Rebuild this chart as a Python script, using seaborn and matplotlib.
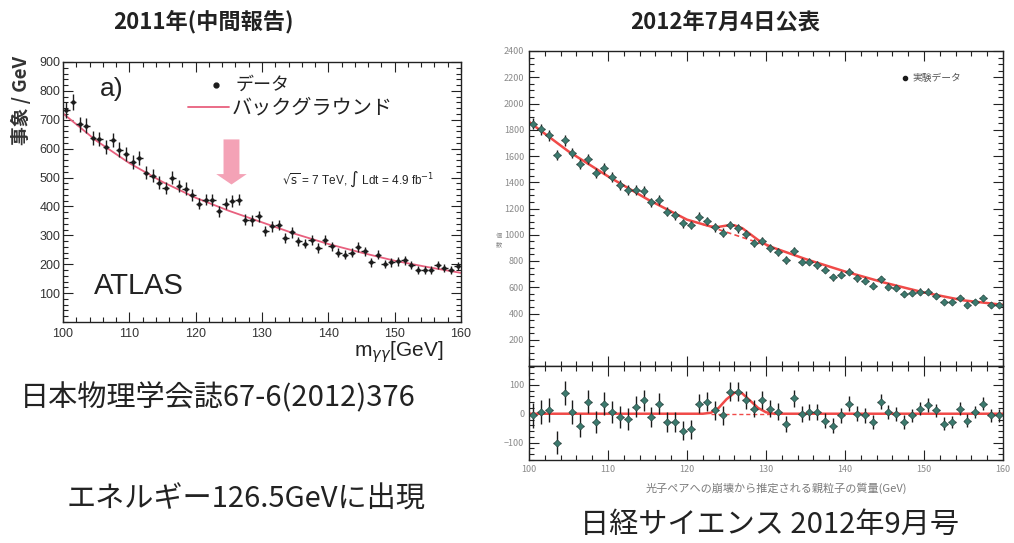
import numpy as np
import matplotlib
matplotlib.use("Agg")
import matplotlib.pyplot as plt
from matplotlib.ticker import MultipleLocator, FixedLocator
import seaborn as sns

# ---------------- data ----------------
# 2011 (ATLAS, 4.9 fb^-1): diphoton events per GeV, 1 GeV bins
atlas_mass = np.arange(100.5, 160.0, 1.0)
atlas_events = [733, 761, 684, 680, 637, 634, 606, 630, 597, 583,
                553, 568, 516, 507, 482, 464, 499, 470, 462, 441,
                410, 424, 421, 383, 410, 418, 424, 354, 352, 366,
                314, 331, 336, 290, 310, 279, 271, 283, 256, 283,
                262, 239, 233, 239, 260, 245, 206, 233, 202, 206,
                210, 213, 198, 181, 181, 181, 198, 187, 179, 195]
atlas_bkg_x = [100, 105, 110, 115, 120, 125, 130, 135, 140, 145, 150, 155, 160]
atlas_bkg_y = [722, 628, 550, 485, 430, 385, 345, 305, 270, 240, 212, 190, 170]

# 2012 announcement: events per bin and background-subtracted residuals
mass_2012 = np.arange(100.5, 160.0, 1.0)
events_2012 = [1847, 1802, 1759, 1607, 1721, 1624, 1538, 1579, 1467, 1505,
               1437, 1378, 1340, 1340, 1335, 1247, 1264, 1176, 1150, 1087,
               1074, 1138, 1105, 1057, 1016, 1074, 1049, 1006, 940, 953,
               897, 866, 808, 877, 795, 795, 770, 732, 676, 694,
               719, 669, 651, 613, 661, 605, 593, 549, 555, 567,
               567, 534, 491, 484, 517, 466, 491, 517, 466, 466]
residual_2012 = [-6, 6, 12, -100, 70, 6, -41, 41, -29, 35,
                 6, -12, -18, 24, 47, -12, 35, -29, -29, -59,
                 -53, 35, 41, 12, -6, 76, 76, 47, 18, 47,
                 18, 6, -35, 53, 0, 6, 6, -24, -41, -6,
                 35, 0, -6, -29, 41, 6, 0, -29, -6, 18,
                 29, 12, -35, -29, 18, -24, 6, 35, -6, -6]
fit_x = [100, 105, 110, 115, 120, 122, 123, 124, 125, 126, 127, 128, 129, 130,
         131, 135, 140, 145, 150, 155, 160]
fit_y = [1860, 1635, 1445, 1270, 1115, 1080, 1063, 1060, 1070, 1072, 1050, 1005,
         960, 925, 900, 815, 720, 635, 560, 500, 466]
bkg_only_x = [122, 124, 126, 128, 130, 131]
bkg_only_y = [1080, 1040, 1000, 960, 920, 900]
signal_x = [100, 122, 123, 124, 125, 126, 126.5, 127, 128, 129, 130, 131, 160]
signal_y = [0, 0, 3, 20, 50, 72, 75, 70, 45, 20, 5, 0, 0]
zero_x = [123, 131]
zero_y = [0, 0]

# ---------------- style ----------------
sns.set_theme(style="ticks")
plt.rcParams["font.family"] = ["Noto Sans CJK JP", "DejaVu Sans"]
LAT = ["Liberation Sans", "Noto Sans CJK JP", "DejaVu Sans"]

fig = plt.figure(figsize=(10.14, 5.43), dpi=100)
W, H = 1014, 543


def px_axes(x0, y0, x1, y1):
    return fig.add_axes([x0 / W, 1 - y1 / H, (x1 - x0) / W, (y1 - y0) / H])


def in_ticks(ax, size=8, color="#333333"):
    ax.tick_params(which="both", direction="in", top=True, right=True,
                   labelsize=size, labelcolor=color, width=0.8, color="#222222")
    ax.tick_params(which="major", length=7)
    ax.tick_params(which="minor", length=3.5)
    for s in ax.spines.values():
        s.set_color("#222222")
        s.set_linewidth(1.0)


# ---------------- left panel (2011) ----------------
axL = px_axes(63, 62, 461, 322)
axL.errorbar(atlas_mass, atlas_events, yerr=np.sqrt(atlas_events), xerr=0.5,
             fmt="none", ecolor="#1c1c1c", elinewidth=1.0, zorder=3)
sns.scatterplot(x=atlas_mass, y=atlas_events, ax=axL, color="#1c1c1c",
                s=10, linewidth=0, legend=False, zorder=4)
sns.lineplot(x=atlas_bkg_x, y=atlas_bkg_y, ax=axL, color="#e8607e",
             linewidth=1.3, zorder=2)
axL.set_xlim(100, 160)
axL.set_ylim(0, 900)
axL.xaxis.set_major_locator(MultipleLocator(10))
axL.xaxis.set_minor_locator(MultipleLocator(2))
axL.yaxis.set_major_locator(MultipleLocator(100))
axL.yaxis.set_minor_locator(MultipleLocator(20))
axL.set_yticks(range(100, 901, 100))
in_ticks(axL, size=9)
for lab in axL.get_xticklabels() + axL.get_yticklabels():
    lab.set_family(LAT)
axL.tick_params(axis="y", pad=2)
axL.tick_params(axis="x", pad=4)

axL.arrow(125.4, 632, 0, -156, width=2.4, head_width=4.6, head_length=36,
          length_includes_head=True, color="#f4a2b6", linewidth=0, zorder=1)
axL.text(107.3, 805, "a)", fontsize=19, color="#222222", ha="center", va="center",
         family=LAT)
axL.text(104.6, 125, "ATLAS", fontsize=21, color="#222222", ha="left", va="center",
         family=LAT)
axL.plot([123.0], [820], "o", color="#1c1c1c", markersize=3.5)
axL.text(126.0, 822, "データ", fontsize=13, color="#222222", ha="left",
         va="center")
axL.plot([118.8, 125.1], [745, 745], color="#e8607e", linewidth=1.3)
axL.text(125.5, 742, "バックグラウンド", fontsize=14.5, color="#222222",
         ha="left", va="center")
axL.text(133.0, 493, r"$\sqrt{\rm s}$ = 7 TeV, $\int$ Ldt = 4.9 fb$^{-1}$",
         fontsize=8.5, color="#222222", ha="left", va="center", family=LAT)
axL.set_xlabel("")
axL.set_ylabel("")
fig.text(443 / W, 1 - 352 / H, r"m$_{\gamma\gamma}$[GeV]", fontsize=15,
         color="#222222", ha="right", va="center", family=LAT)
fig.text(21 / W, 1 - 100 / H, "事象 / GeV", fontsize=13.5, color="#333333",
         rotation=90, ha="center", va="center", fontweight="bold")

# ---------------- right panels (2012) ----------------
axU = px_axes(529, 51, 1003, 366)
axR = px_axes(529, 366, 1003, 460)

MARK = "#3c7a6e"
axU.errorbar(mass_2012, events_2012, yerr=np.sqrt(events_2012), xerr=0.5,
             fmt="none", ecolor="#1a1a1a", elinewidth=1.0, zorder=3)
sns.scatterplot(x=mass_2012, y=events_2012, ax=axU, color=MARK, marker="D",
                s=14, edgecolor="#22403a", linewidth=0.4, legend=False, zorder=4)
sns.lineplot(x=fit_x, y=fit_y, ax=axU, color="#f04a48", linewidth=1.8, zorder=2)
axU.plot(bkg_only_x, bkg_only_y, color="#f04a48", linewidth=1.2,
         linestyle=(0, (3, 2)), zorder=2)
axU.set_xlim(100, 160)
axU.set_ylim(0, 2400)
axU.xaxis.set_major_locator(MultipleLocator(10))
axU.xaxis.set_minor_locator(MultipleLocator(2))
axU.yaxis.set_major_locator(FixedLocator(list(range(200, 2401, 200))))
axU.yaxis.set_minor_locator(MultipleLocator(50))
in_ticks(axU, size=6.5, color="#8a8a8a")
axU.tick_params(labelbottom=False)
axU.set_xlabel("")
axU.set_ylabel("")
axU.plot([147.6], [2197], "o", color="#1a1a1a", markersize=3)
axU.text(148.6, 2197, "実験データ", fontsize=7, color="#555555",
         ha="left", va="center")

axR.errorbar(mass_2012, residual_2012, yerr=np.sqrt(events_2012), xerr=0.5,
             fmt="none", ecolor="#1a1a1a", elinewidth=1.0, zorder=3)
sns.scatterplot(x=mass_2012, y=residual_2012, ax=axR, color=MARK, marker="D",
                s=14, edgecolor="#22403a", linewidth=0.4, legend=False, zorder=4)
sns.lineplot(x=signal_x, y=signal_y, ax=axR, color="#f04a48", linewidth=1.8,
             zorder=2)
axR.plot(zero_x, zero_y, color="#f04a48", linewidth=1.0,
         linestyle=(0, (3, 2)), zorder=2)
axR.set_xlim(100, 160)
axR.set_ylim(-160, 165)
axR.xaxis.set_major_locator(MultipleLocator(10))
axR.xaxis.set_minor_locator(MultipleLocator(2))
axR.set_yticks([-100, 0, 100])
axR.set_yticklabels(["\u2212100", "0", "100"])
axR.yaxis.set_minor_locator(MultipleLocator(20))
in_ticks(axR, size=6.5, color="#8a8a8a")
axR.set_xlabel("")
axR.set_ylabel("")

fig.text(776 / W, 1 - 488 / H, "光子ペアへの崩壊から推定される親粒子の質量(GeV)",
         fontsize=8, color="#7a7a7a", ha="center", va="center")
fig.text(499 / W, 1 - 240 / H, "個\n数", fontsize=4.5, color="#8a8a8a",
         ha="center", va="center", linespacing=1.0)

# ---------------- captions ----------------
fig.text(203 / W, 1 - 22 / H, "2011年(中間報告)", fontsize=16, color="#222222",
         ha="center", va="center", fontweight="bold")
fig.text(725 / W, 1 - 22 / H, "2012年7月4日公表", fontsize=16, color="#222222",
         ha="center", va="center", fontweight="bold")
fig.text(20 / W, 1 - 398 / H, "日本物理学会誌67-6(2012)376", fontsize=21,
         color="#222222", ha="left", va="center")
fig.text(67 / W, 1 - 500 / H, "エネルギー126.5GeVに出現", fontsize=21,
         color="#222222", ha="left", va="center")
fig.text(580 / W, 1 - 525 / H, "日経サイエンス 2012年9月号", fontsize=21,
         color="#222222", ha="left", va="center")

fig.savefig("out.png", dpi=100, facecolor="white")
